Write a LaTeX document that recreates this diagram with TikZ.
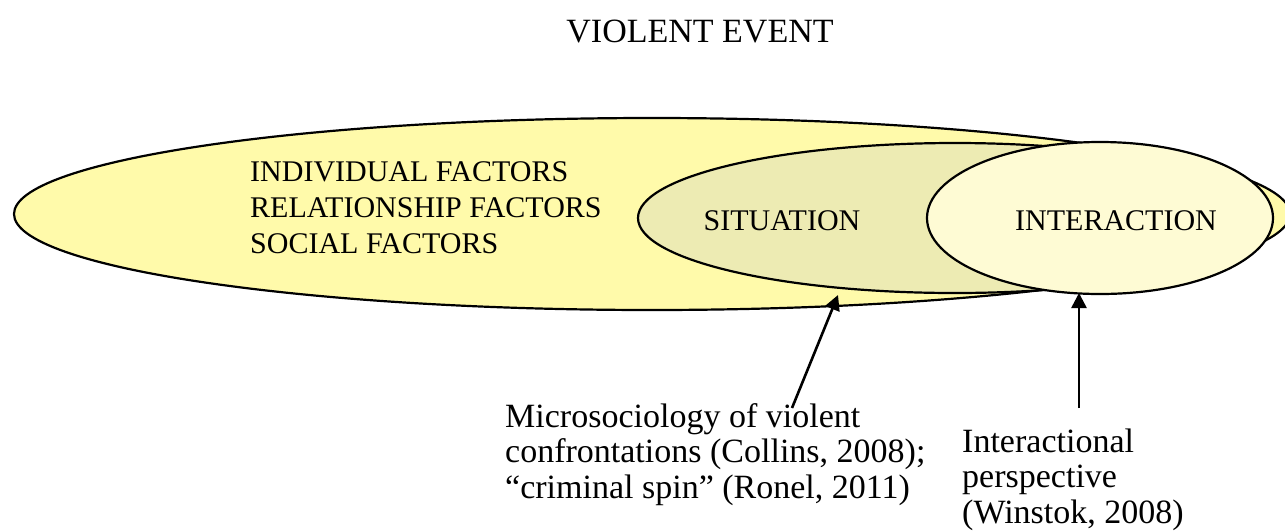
\documentclass[tikz,border=0pt]{standalone}
\usepackage{fontspec}
\setmainfont{Liberation Serif}
\usetikzlibrary{arrows.meta,positioning}
\definecolor{factorsyellow}{HTML}{FFFAAA}
\definecolor{situationolive}{HTML}{EDEBB3}
\definecolor{interactionyellow}{HTML}{FEFBD4}
\def\factorsellipse{(652,214) ellipse (638 and 96)}
\def\situationellipse{(955,218) ellipse (317 and 75)}
\def\interactionellipse{(1100,218) ellipse (173 and 76)}

\begin{document}
\begin{tikzpicture}[x=1pt,y=-1pt,
    ellipsetext/.style={inner sep=0pt,align=left,font=\fontsize{30}{36}\selectfont},
    sourcetext/.style={inner sep=0pt,align=left,font=\fontsize{34}{35.5}\selectfont},
    pointer/.style={line width=2.6pt,-{Triangle[length=15pt,width=15pt]}}]
    \useasboundingbox (0,0) rectangle (1285,531);
    \begin{scope}[line width=2.2pt]
    \filldraw[fill=factorsyellow] \factorsellipse;
    \filldraw[fill=situationolive] \situationellipse;
    \filldraw[fill=interactionyellow] \interactionellipse;
    \end{scope}
    \node[inner sep=0pt,anchor=base,font=\fontsize{34}{40}\selectfont] (title) at (700,42) {VIOLENT EVENT};
    % multi-line nodes sit on their last line
    \node[ellipsetext,anchor=base west] (factors) at (250,253) {INDIVIDUAL FACTORS\\RELATIONSHIP FACTORS\\SOCIAL FACTORS};
    \node[ellipsetext,anchor=base] (situation) at (782,230) {SITUATION};
    \node[ellipsetext,anchor=base] (interaction) at (1116,230) {INTERACTION};
    \node[sourcetext,anchor=base west] (micro) at (505,498) {Microsociology of violent\\confrontations (Collins, 2008);\\``criminal spin'' (Ronel, 2011)};
    \node[sourcetext,anchor=base west] (interactional) at (962,523) {Interactional\\perspective\\(Winstok, 2008)};
    % arrow ends
    \coordinate (microtail) at (792,408);
    \coordinate (situationtip) at (838,295);
    \coordinate (interactionaltail) at (1079,408);
    \coordinate (interactiontip) at (1079,293);
    \draw[pointer] (microtail) -- (situationtip);
    \draw[pointer] (interactionaltail) -- (interactiontip);
\end{tikzpicture}
\end{document}
